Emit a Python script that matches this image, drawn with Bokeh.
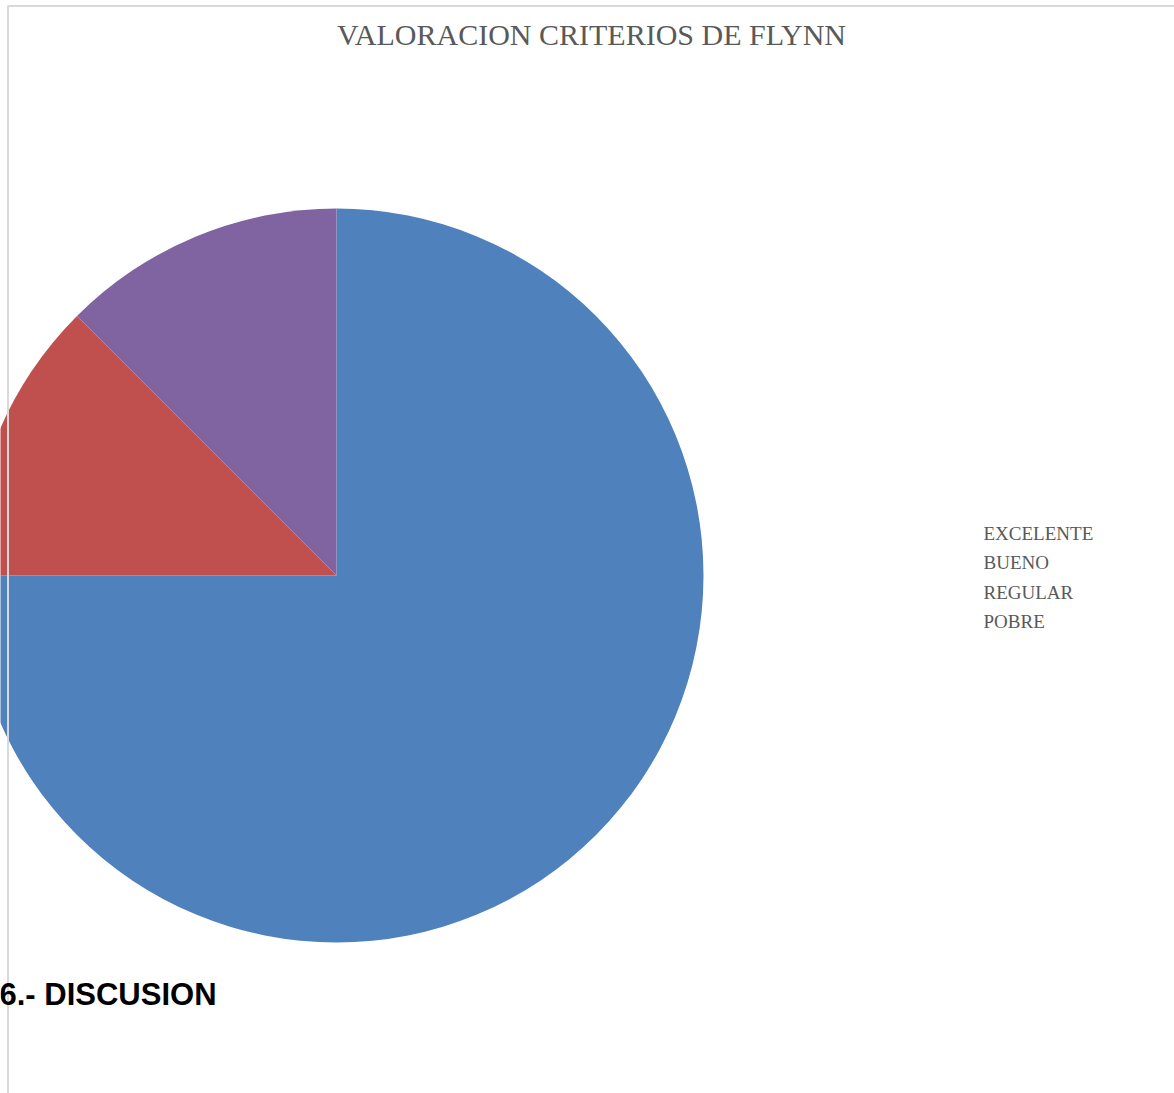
import numpy as np
from bokeh.plotting import figure
from bokeh.models import Range1d, ColumnDataSource
from bokeh.core.properties import value
from bokeh.embed import file_html
from bokeh.resources import INLINE

categories = ["EXCELENTE", "BUENO", "REGULAR", "POBRE"]
counts = [6, 1, 0, 1]
colors = ["#4F81BD", "#C0504D", "#9BBB59", "#8064A2"]
title = "VALORACION CRITERIOS DE FLYNN"
footer = "6.- DISCUSION"

W, H = 1174, 1093
p = figure(width=W, height=H, output_backend="svg", toolbar_location=None,
           x_range=Range1d(0, W), y_range=Range1d(0, H),
           x_axis_location=None, y_axis_location=None, min_border=0)
p.grid.visible = False
p.outline_line_color = None
p.background_fill_color = "white"
p.border_fill_color = "white"

vals = np.array(counts, dtype=float)
frac = vals / vals.sum()
cum = np.concatenate([[0], np.cumsum(frac)])
start = np.pi / 2 - cum[1:] * 2 * np.pi
end = np.pi / 2 - cum[:-1] * 2 * np.pi
keep = frac > 0
src = ColumnDataSource(dict(start=start[keep], end=end[keep],
                            color=[c for c, k in zip(colors, keep) if k]))
cx, cy, r = 336, H - 575, 367
p.wedge(x=cx, y=cy, radius=r, start_angle="start", end_angle="end",
        direction="anticlock", fill_color="color", line_color=None, source=src)

# chart border
p.quad(left=7.5, right=W + 20, top=H - 5.5, bottom=-20, fill_color=None,
       line_color="#d9d9d9", line_width=2)

p.text(x=[591], y=[H - 34], text=[title], text_align="center",
       text_baseline="middle", text_font=value("Liberation Serif"),
       text_font_size="30px", text_color="#595959")

ly = [H - 533 - i * 29.4 for i in range(len(categories))]
p.text(x=[983] * len(categories), y=ly, text=categories, text_align="left",
       text_baseline="middle", text_font=value("Liberation Serif"),
       text_font_size="19px", text_color="#595959")

p.text(x=[-1], y=[H - 994], text=[footer], text_align="left",
       text_baseline="middle", text_font=value("Liberation Sans"),
       text_font_style="bold", text_font_size="31px", text_color="#000000")

open("out.html", "w").write(file_html(p, INLINE))
